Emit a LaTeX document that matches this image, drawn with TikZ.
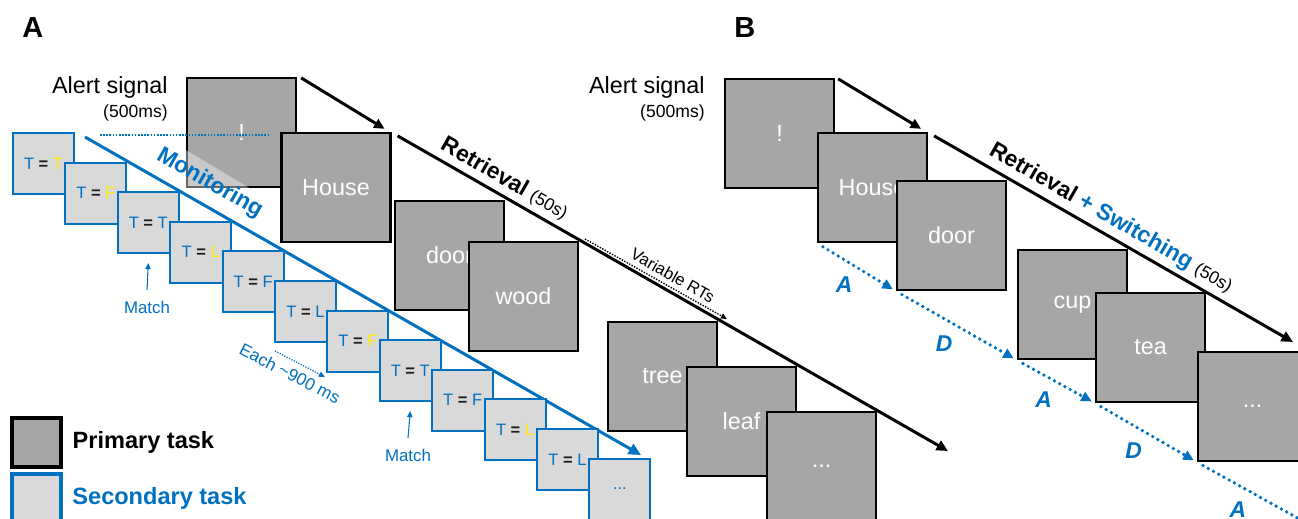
\documentclass[tikz,border=0pt]{standalone}
\usepackage{fontspec}
\setmainfont{Liberation Sans}
\usepackage{tikz}
\usetikzlibrary{
  arrows.meta,
  positioning,
  calc
}
\definecolor{tblue}{RGB}{0,112,192}
\definecolor{boxgray}{RGB}{166,166,166}
\definecolor{palegray}{RGB}{217,217,217}
\definecolor{tyellow}{RGB}{255,236,0}
\definecolor{darktext}{RGB}{30,30,30}
\newcommand{\fsz}[1]{\fontsize{#1}{1.2\dimexpr#1pt\relax}\selectfont}
\tikzset{
  primbox/.style={draw=black, line width=1.3pt, fill=boxgray, minimum size=2.18cm,
    inner sep=0pt, text=white, font=\fsz{13.3}},
  secbox/.style={draw=tblue, line width=1.1pt, fill=palegray, minimum size=1.22cm,
    inner sep=0pt, text=darktext, font=\fsz{9.4}},
  flow/.style={black, line width=1.7pt, -{Triangle[length=6pt,width=5.5pt]}},
  rline/.style={black, line width=1.7pt, -{Triangle[length=6.5pt,width=6pt]}},
  monline/.style={tblue, line width=1.7pt, -{Triangle[length=7pt,width=6.5pt]}},
  varline/.style={black, line width=0.8pt, dash pattern=on 0.8pt off 0.8pt,
    -{Triangle[length=3.5pt,width=3pt]}},
  paceline/.style={tblue, line width=0.7pt, dash pattern=on 0.7pt off 0.8pt,
    -{Triangle[length=3.5pt,width=3pt]}},
  matcharrow/.style={tblue, line width=0.6pt, -{Triangle[length=3.5pt,width=3pt]}},
  cueline/.style={tblue, line width=0.9pt, dash pattern=on 0.9pt off 0.9pt},
  swline/.style={tblue, line width=2.1pt, dash pattern=on 0pt off 3.4pt, line cap=round,
    shorten <=4pt, shorten >=2pt, -{Triangle[length=6pt,width=5.5pt]}},
  swlab/.style={text=tblue, font=\fsz{13}\bfseries\itshape, xshift=-7pt, yshift=-10pt},
  cue/.style={inner sep=0pt, font=\fsz{13.3}},
  cuems/.style={inner sep=0pt, font=\fsz{10}},
  panel/.style={inner sep=0pt, font=\fsz{16.5}\bfseries},
  matchlab/.style={inner sep=0pt, text=tblue, font=\fsz{9.6}},
  legtext/.style={font=\fsz{13.4}\bfseries},
  legprim/.style={draw=black, line width=2.3pt, fill=boxgray, minimum size=0.98cm, inner sep=0pt},
  legsec/.style={draw=tblue, line width=2pt, fill=palegray, minimum size=0.98cm, inner sep=0pt}
}
% one secondary trial: name, x, y, probe letter, letter colour
\newcommand{\tpair}[5]{%
  \node[secbox] (#1) at (#2,#3)
    {\textcolor{tblue}{T} \textbf{=} \textcolor{#5}{#4}};%
}

\begin{document}
\begin{tikzpicture}[x=0.02cm,y=-0.02cm]
  \useasboundingbox (0,0) rectangle (1298,518);
  \clip (0,0) rectangle (1298,518);

  % panel letters
  \node[panel, anchor=base west] (labA) at (22,37) {A};
  \node[panel, anchor=base west] (labB) at (734,37) {B};

  % A: alert cue
  \node[cue, anchor=base east] (cueA) at (168,93) {Alert signal};
  \node[cuems, anchor=base east] (msA) at (168,117) {(500ms)};

  % A: monitoring stream
  \coordinate (monStart) at (85,137);
  \coordinate (monEnd) at (641,455);
  \draw[monline] (monStart) -- (monEnd);

  \tpair{s1}{43.5}{163.5}{T}{tyellow}
  \tpair{s2}{95.9}{193.1}{F}{tyellow}
  \tpair{s3}{148.3}{222.7}{T}{tblue}
  \tpair{s4}{200.7}{252.3}{L}{tyellow}
  \tpair{s5}{253.1}{281.9}{F}{tblue}
  \tpair{s6}{305.5}{311.5}{L}{tblue}
  \tpair{s7}{357.9}{341.1}{F}{tyellow}
  \tpair{s8}{410.3}{370.7}{T}{tblue}
  \tpair{s9}{462.7}{400.3}{F}{tblue}
  \tpair{s10}{515.1}{429.9}{L}{tyellow}
  \tpair{s11}{567.5}{459.5}{L}{tblue}
  \node[secbox, text=tblue] (s12) at (619.9,489.1) {...};

  \node[matchlab] (match1) at (147,307) {Match};
  \draw[matcharrow] ([yshift=6pt]match1.north) -- ([yshift=-5pt]s3.south);
  \node[matchlab] (match2) at (408,455) {Match};
  \draw[matcharrow] ([yshift=6pt]match2.north) -- ([yshift=-5pt]s8.south);

  \coordinate (paceStart) at (275,351);
  \coordinate (paceEnd) at (325,377);
  \draw[paceline] (paceStart) -- (paceEnd)
    node[pos=0.42, sloped, below=3.5pt, inner sep=0pt, text=tblue, font=\fsz{9.8}] (paceText) {Each \textasciitilde900 ms};

  % A: retrieval stream
  \node[primbox] (alertA) at (241.5,132.5) {!};
  \fill[white, opacity=0.4] (186,150) -- (186,189.5) -- (252,189.5) -- cycle;
  \coordinate (cueL) at (100,135);
  \coordinate (cueR) at (268,135);
  \draw[cueline] (cueL) -- (cueR);
  \path (monStart) -- (monEnd)
    node[pos=0.205, sloped, above=5pt, inner sep=1pt, text=tblue, font=\fsz{13}\bfseries] (monText) {Monitoring};
  \node[primbox] (houseA) at (336,187.5) {House};
  \draw[flow] ([shift={(4,1)}]alertA.north east) -- ([shift={(-7,-3)}]houseA.north east);

  \coordinate (retEndA) at (948,451);
  \draw[rline] ([shift={(6,4)}]houseA.north east) -- (retEndA)
    node[pos=0.18, sloped, above=1.5pt, inner sep=1pt] (retTextA)
    {\fsz{13}\textbf{Retrieval} {\fsz{10}(50s)}};

  \coordinate (varStart) at (585,239);
  \coordinate (varEnd) at (727,319);
  \draw[varline] (varStart) -- (varEnd)
    node[pos=0.58, sloped, above=2.5pt, inner sep=0pt, font=\fsz{9.5}] (varText) {Variable RTs};

  \node[primbox] (doorA) at (449.5,255.5) {door};
  \node[primbox] (woodA) at (523.5,296.5) {wood};
  \node[primbox] (treeA) at (662.5,376.5) {tree};
  \node[primbox] (leafA) at (741.5,421.5) {leaf};
  \node[primbox] (dotsA) at (821.5,466.5) {...};

  % legend
  \node[legprim] (legP) at (36.5,442.5) {};
  \node[legtext, right=2pt of legP] (legPtext) {Primary task};
  \node[legsec] (legS) at (36.5,498.5) {};
  \node[legtext, text=tblue, right=2pt of legS] (legStext) {Secondary task};

  % B: alert cue
  \node[cue, anchor=base east] (cueB) at (705,93) {Alert signal};
  \node[cuems, anchor=base east] (msB) at (705,117) {(500ms)};

  % B: retrieval with switching
  \node[primbox] (alertB) at (779.5,133.5) {!};
  \node[primbox] (houseB) at (872.5,187.5) {House};
  \draw[flow] ([shift={(3,1)}]alertB.north east) -- ([shift={(-7,-3)}]houseB.north east);

  \coordinate (retEndB) at (1293,342);
  \draw[rline] ([shift={(6,4)}]houseB.north east) -- (retEndB)
    node[pos=0.47, sloped, above=1.5pt, inner sep=1pt] (retTextB)
    {\fsz{13}\textbf{Retrieval} \textcolor{tblue}{\textbf{+ Switching}} {\fsz{10}(50s)}};

  \node[primbox] (doorB) at (951.5,235.5) {door};
  \node[primbox] (cupB) at (1072.5,304.5) {cup};
  \node[primbox] (teaB) at (1150.5,347.5) {tea};
  \node[primbox] (dotsB) at (1252.5,406.5) {...};

  \coordinate (swEnd) at (1330,536);
  \draw[swline] (houseB.south west) -- (doorB.south west) node[midway, swlab] (sw1) {A};
  \draw[swline] (doorB.south west) -- (cupB.south west) node[midway, swlab] (sw2) {D};
  \draw[swline] (cupB.south west) -- (teaB.south west) node[midway, swlab] (sw3) {A};
  \draw[swline] (teaB.south west) -- (dotsB.south west) node[midway, swlab] (sw4) {D};
  \draw[swline] (dotsB.south west) -- (swEnd) node[pos=0.4, swlab] (sw5) {A};

\end{tikzpicture}
\end{document}
